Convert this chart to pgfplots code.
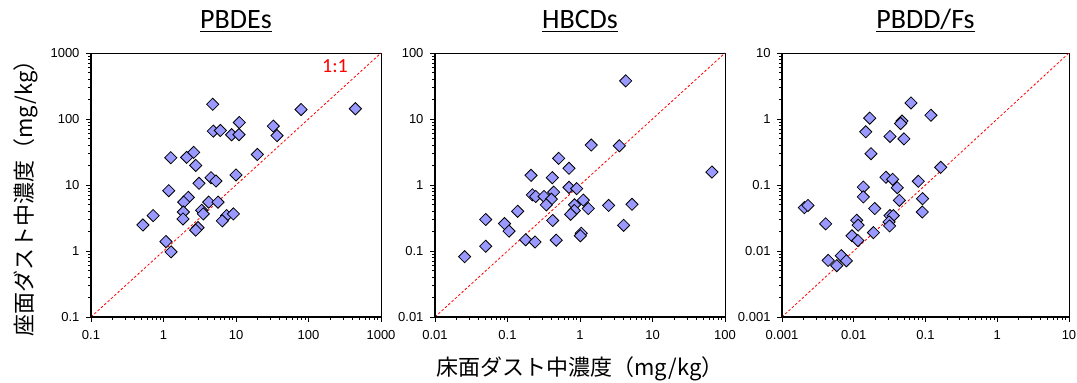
\documentclass[border=0pt]{standalone}
\usepackage{fontspec}
\setmainfont{Liberation Sans}
\newfontfamily\carlito{Carlito}
\newfontfamily\cjk{Noto Sans CJK JP}
\usepackage{pgfplots}
\pgfplotsset{compat=1.18}
\definecolor{mfill}{HTML}{9999FF}
\newcommand\ul[1]{\setbox0\hbox{#1}\rlap{\raisebox{-3.5pt}{\rule{\wd0}{1.6pt}}}\box0}
\pgfplotsset{
  sc/.style={
    scale only axis, height=264pt,
    clip=false,
    axis line style={black,line width=0.7pt},
    tick align=outside, xtick pos=left, ytick pos=left,
    major tick length=5pt, minor tick length=3pt,
    every tick/.style={black,line width=0.8pt},
    tick label style={font=\fontsize{13}{15}\selectfont},
    /pgf/number format/assume math mode=true,
    yticklabel style={xshift=-3pt},
    xticklabel style={yshift=-5pt},
    title style={at={(0.5,1)},anchor=base,yshift=18pt,font=\carlito\fontsize{28}{30}\selectfont},
  },
  pts/.style={only marks, mark=square*, mark size=4.3pt,
    mark options={rotate=45, fill=mfill, draw=black, line width=0.8pt}},
  oneone/.style={red, line width=0.8pt, dash pattern=on 2.5pt off 2pt},
}
\begin{document}
\begin{tikzpicture}[x=1pt,y=1pt]
\useasboundingbox (0,0) rectangle (1077,383);
% Panel 1
\begin{axis}[sc, at={(91pt,66pt)}, anchor=south west, width=290pt,
  xmode=log, ymode=log, xmin=0.1, xmax=1000, ymin=0.1, ymax=1000,
  title={\ul{PBDEs}},
  xtick={0.1,1,10,100,1000}, xticklabels={0.1,1,10,100,1000},
  ytick={0.1,1,10,100,1000}, yticklabels={0.1,1,10,100,1000},
  minor xtick={0.2,0.3,0.4,0.5,0.6,0.7,0.8,0.9,2,3,4,5,6,7,8,9,20,30,40,50,60,70,80,90,200,300,400,500,600,700,800,900},
  minor ytick={0.2,0.3,0.4,0.5,0.6,0.7,0.8,0.9,2,3,4,5,6,7,8,9,20,30,40,50,60,70,80,90,200,300,400,500,600,700,800,900},
]
\addplot[oneone] coordinates {(0.1,0.1) (1000,1000)};
\addplot[pts] table {
x y
4.77 167
79 139
443 143
11.1 88.5
4.86 65.5
6.08 67
8.7 57.7
11 58
32.7 78
36.8 56
19.7 29
1.26 25.9
2.09 26.2
2.61 31.2
2.78 19.8
4.52 12.9
5.29 11.5
10 14.2
3.09 10.6
1.18 8.2
2.2 6.5
1.9 5.5
4.2 5.5
5.65 5.5
1.88 3.9
3.36 4.14
3.54 3.65
7.43 3.44
9.2 3.65
6.47 2.86
0.72 3.44
0.52 2.48
1.86 3.06
2.99 2.26
2.78 2.07
1.08 1.39
1.27 0.97
};
\node[red, font=\carlito\fontsize{20}{22}\selectfont] at (axis cs:232,630) {1:1};
\draw[line width=1.8pt] (rel axis cs:0,1) -- (rel axis cs:0,0) -- (rel axis cs:1,0);
\end{axis}
% Panel 2
\begin{axis}[sc, at={(435pt,66pt)}, anchor=south west, width=290pt,
  xmode=log, ymode=log, xmin=0.01, xmax=100, ymin=0.01, ymax=100,
  title={\ul{HBCDs}},
  xtick={0.01,0.1,1,10,100}, xticklabels={0.01,0.1,1,10,100},
  ytick={0.01,0.1,1,10,100}, yticklabels={0.01,0.1,1,10,100},
  minor xtick={0.02,0.03,0.04,0.05,0.06,0.07,0.08,0.09,0.2,0.3,0.4,0.5,0.6,0.7,0.8,0.9,2,3,4,5,6,7,8,9,20,30,40,50,60,70,80,90},
  minor ytick={0.02,0.03,0.04,0.05,0.06,0.07,0.08,0.09,0.2,0.3,0.4,0.5,0.6,0.7,0.8,0.9,2,3,4,5,6,7,8,9,20,30,40,50,60,70,80,90},
]
\addplot[oneone] coordinates {(0.01,0.01) (100,100)};
\addplot[pts] table {
x y
4.27 37.8
66 1.57
1.43 4.03
3.49 3.93
0.508 2.53
0.705 1.79
0.211 1.40
0.415 1.29
0.705 0.92
0.9 0.88
0.434 0.78
0.22 0.71
0.245 0.67
0.319 0.67
0.403 0.61
0.343 0.50
1.11 0.59
0.84 0.50
1.3 0.44
2.48 0.49
5.21 0.51
0.835 0.41
0.743 0.36
0.138 0.40
0.05 0.30
0.42 0.29
0.091 0.26
0.105 0.20
4.0 0.245
1.04 0.186
1.01 0.17
0.178 0.148
0.24 0.137
0.47 0.146
0.05 0.118
0.0256 0.082
};
\draw[line width=1.8pt] (rel axis cs:0,1) -- (rel axis cs:0,0) -- (rel axis cs:1,0);
\end{axis}
% Panel 3
\begin{axis}[sc, at={(782pt,66pt)}, anchor=south west, width=287pt,
  xmode=log, ymode=log, xmin=0.001, xmax=10, ymin=0.001, ymax=10,
  title={\ul{PBDD/Fs}},
  xtick={0.001,0.01,0.1,1,10}, xticklabels={0.001,0.01,0.1,1,10},
  ytick={0.001,0.01,0.1,1,10}, yticklabels={0.001,0.01,0.1,1,10},
  minor xtick={0.002,0.003,0.004,0.005,0.006,0.007,0.008,0.009,0.02,0.03,0.04,0.05,0.06,0.07,0.08,0.09,0.2,0.3,0.4,0.5,0.6,0.7,0.8,0.9,2,3,4,5,6,7,8,9},
  minor ytick={0.002,0.003,0.004,0.005,0.006,0.007,0.008,0.009,0.02,0.03,0.04,0.05,0.06,0.07,0.08,0.09,0.2,0.3,0.4,0.5,0.6,0.7,0.8,0.9,2,3,4,5,6,7,8,9},
]
\addplot[oneone] coordinates {(0.001,0.001) (10,10)};
\addplot[pts] table {
x y
0.0628 1.75
0.119 1.14
0.0167 1.03
0.047 0.93
0.045 0.855
0.0147 0.64
0.032 0.544
0.05 0.50
0.0174 0.298
0.163 0.185
0.0281 0.131
0.0348 0.122
0.0794 0.114
0.0136 0.093
0.0404 0.091
0.0136 0.066
0.091 0.062
0.0432 0.0586
0.0196 0.044
0.0903 0.039
0.00205 0.0454
0.0023 0.049
0.032 0.0344
0.0356 0.0344
0.011 0.0292
0.0115 0.0246
0.031 0.0276
0.0316 0.024
0.00406 0.0258
0.0188 0.019
0.00946 0.017
0.0114 0.0144
0.0044 0.0072
0.0067 0.0085
0.0079 0.0071
0.0058 0.006
};
\draw[line width=1.8pt] (rel axis cs:0,1) -- (rel axis cs:0,0) -- (rel axis cs:1,0);
\end{axis}
\node[rotate=90, font=\cjk\fontsize{22}{24}\selectfont] at (26,190) {座面ダスト中濃度（mg/kg）};
\node[font=\cjk\fontsize{22}{24}\selectfont] at (580,14) {床面ダスト中濃度（mg/kg）};
\end{tikzpicture}
\end{document}
